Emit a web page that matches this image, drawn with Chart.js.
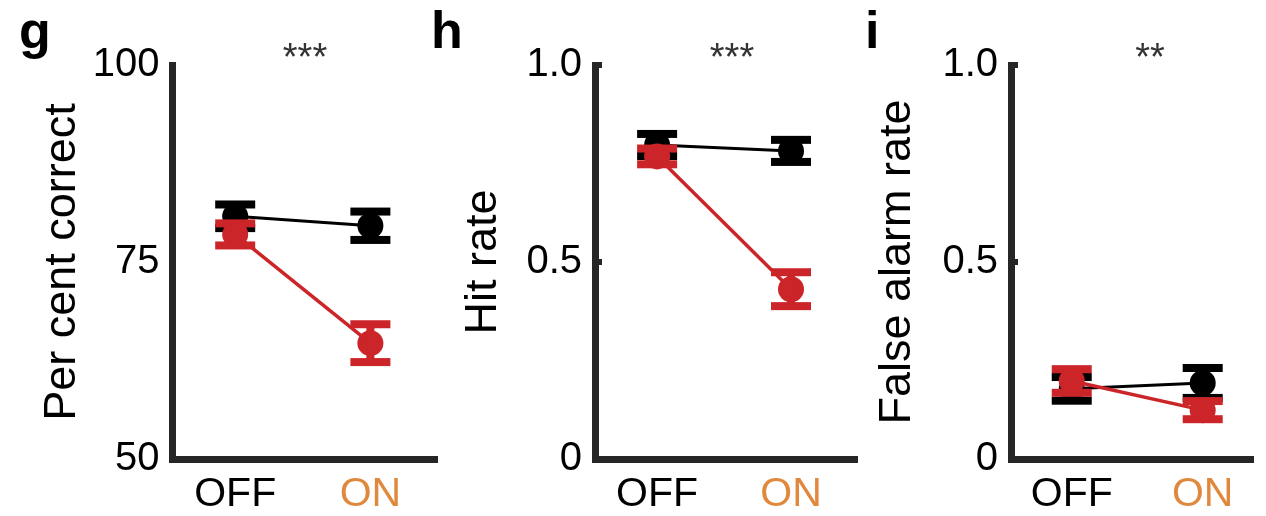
<!DOCTYPE html>
<html>
<head>
<meta charset="utf-8">
<script src="https://cdn.jsdelivr.net/npm/chart.js@4"></script>
<style>
  body { margin: 0; background: #fff; }
  #wrap { position: relative; width: 1266px; height: 516px; overflow: hidden; background: #fff; }
  .panel { position: absolute; top: 0; }
  .letter { position: absolute; font: bold 52px 'Liberation Sans', Arial, sans-serif; line-height: 52px; color: #000; }
  .stars { position: absolute; font: 38px 'Liberation Sans', Arial, sans-serif; line-height: 38px; color: #333; width: 100px; text-align: center; }
</style>
</head>
<body>
<div id="wrap">
  <div class="panel" style="left:0px"><canvas id="g" width="450" height="516"></canvas></div>
  <div class="panel" style="left:440px"><canvas id="h" width="430" height="516"></canvas></div>
  <div class="panel" style="left:860px"><canvas id="i" width="406" height="516"></canvas></div>
  <div class="letter" style="left:19px;top:4px">g</div>
  <div class="letter" style="left:431px;top:4px">h</div>
  <div class="letter" style="left:865px;top:4px">i</div>
  <div class="stars" style="left:255px;top:38px">***</div>
  <div class="stars" style="left:682px;top:38px">***</div>
  <div class="stars" style="left:1100px;top:38px">**</div>
</div>
<script>
// conditions on the x axis
const conditions = ['OFF', 'ON'];
const conditionColors = ['#000000', '#e0883c'];

// g: per cent correct
const pctBlack = [80.8, 79.6];
const pctBlackErr = [1.5, 1.8];
const pctRed = [78.5, 64.7];
const pctRedErr = [1.4, 2.4];
const pctTicks = ['50', '75', '100'];

// h: hit rate
const hitBlack = [0.797, 0.782];
const hitBlackErr = [0.028, 0.028];
const hitRed = [0.768, 0.431];
const hitRedErr = [0.02, 0.043];

// i: false alarm rate
const faBlack = [0.178, 0.193];
const faBlackErr = [0.03, 0.038];
const faRed = [0.198, 0.124];
const faRedErr = [0.03, 0.023];
const rateTicks = ['0', '0.5', '1.0'];

const RED = '#cc2529';
const AXIS = '#262626';
const FONT = "'Liberation Sans', Arial, sans-serif";
Chart.defaults.font.family = FONT;

// draws the error bars of each dataset right after it
const errorBars = {
    id: 'errorBars',
    afterDatasetDraw(chart, args) {
        const ds = chart.data.datasets[args.index];
        if (!ds.errors) return;
        const ctx = chart.ctx;
        const xs = chart.scales.x, ys = chart.scales.y;
        ctx.save();
        ctx.fillStyle = ds.borderColor;
        ds.data.forEach((p, i) => {
            const px = xs.getPixelForValue(p.x);
            const top = ys.getPixelForValue(p.y + ds.errors[i]);
            const bot = ys.getPixelForValue(p.y - ds.errors[i]);
            ctx.fillRect(px - 4, top, 8, bot - top);
            ctx.fillRect(px - 20, top - 4, 40, 8);
            ctx.fillRect(px - 20, bot - 4, 40, 8);
        });
        ctx.restore();
    }
};

function series(values) {
    return values.map((v, i) => ({ x: i + 1, y: v }));
}

function makePanel(id, p) {
    const pxPerUnit = 138;
    const xMin = 1 - 64 / pxPerUnit;
    const xMax = xMin + p.plotLen / pxPerUnit;
    return new Chart(document.getElementById(id), {
        type: 'line',
        data: {
            datasets: [
                {
                    data: series(p.black), errors: p.blackErr,
                    borderColor: '#000', backgroundColor: '#000',
                    borderWidth: 3, pointRadius: 13, pointBorderWidth: 0, order: 2
                },
                {
                    data: series(p.red), errors: p.redErr,
                    borderColor: RED, backgroundColor: RED,
                    borderWidth: 3.5, pointRadius: 13, pointBorderWidth: 0, order: 1
                }
            ]
        },
        options: {
            responsive: false,
            animation: false,
            events: [],
            layout: { padding: { left: 0, top: 65, right: p.padRight, bottom: 0 } },
            plugins: { legend: { display: false }, tooltip: { enabled: false } },
            scales: {
                x: {
                    type: 'linear', min: xMin, max: xMax,
                    afterBuildTicks: s => { s.ticks = [{ value: 1 }, { value: 2 }]; },
                    afterFit: s => { s.height = 57; },
                    grid: { display: false, drawTicks: false },
                    border: { display: true, color: AXIS, width: 7 },
                    ticks: {
                        padding: 11,
                        autoSkip: false, maxRotation: 0,
                        font: { size: 41 },
                        color: c => conditionColors[c.index],
                        callback: (v, i) => conditions[i]
                    }
                },
                y: {
                    min: p.yMin, max: p.yMax,
                    afterBuildTicks: s => {
                        s.ticks = p.yLabels.map((l, i) => ({ value: p.yMin + i * (p.yMax - p.yMin) / 2 }));
                    },
                    afterFit: s => { s.width = p.axisX; },
                    grid: { display: true, drawOnChartArea: false, drawTicks: true, tickLength: -7,
                            lineWidth: 6, color: p.tickColor },
                    border: { display: true, color: AXIS, width: 7 },
                    ticks: {
                        padding: 20,
                        font: { size: 40 },
                        color: '#000',
                        callback: (v, i) => p.yLabels[i]
                    },
                    title: {
                        display: true, text: p.title, color: '#000',
                        font: { size: 45 },
                        padding: { top: p.titlePad, bottom: 0 }
                    }
                }
            }
        },
        plugins: [errorBars]
    });
}

makePanel('g', {
    axisX: 172.5, plotLen: 270, padRight: 7.5, titlePad: 35.5, title: 'Per cent correct',
    yMin: 50, yMax: 100, yLabels: pctTicks, tickColor: 'rgba(0,0,0,0)',
    black: pctBlack, blackErr: pctBlackErr, red: pctRed, redErr: pctRedErr
});
makePanel('h', {
    axisX: 155, plotLen: 270, padRight: 5, titlePad: 16.5, title: 'Hit rate',
    yMin: 0, yMax: 1, yLabels: rateTicks, tickColor: AXIS,
    black: hitBlack, blackErr: hitBlackErr, red: hitRed, redErr: hitRedErr
});
makePanel('i', {
    axisX: 151, plotLen: 255, padRight: 0, titlePad: 11, title: 'False alarm rate',
    yMin: 0, yMax: 1, yLabels: rateTicks, tickColor: AXIS,
    black: faBlack, blackErr: faBlackErr, red: faRed, redErr: faRedErr
});
</script>
</body>
</html>
